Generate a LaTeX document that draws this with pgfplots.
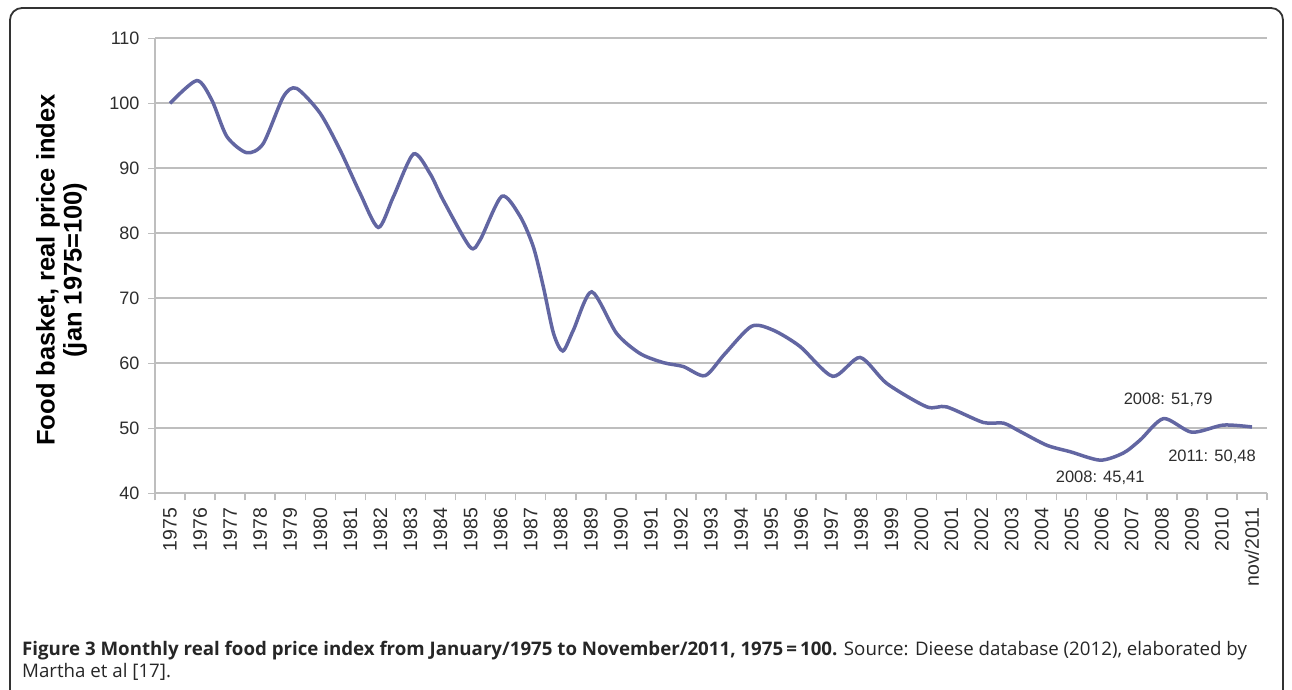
\documentclass[border=0pt]{standalone}
\usepackage{fontspec}
\setmainfont{Liberation Sans}
\newfontfamily\capfont{Open Sans}
\usepackage{pgfplots}
\pgfplotsset{compat=1.18}
\definecolor{linec}{RGB}{98,102,162}
\definecolor{gridc}{RGB}{190,190,190}
\definecolor{txt}{RGB}{45,45,45}
\begin{document}
\begin{tikzpicture}
\path[use as bounding box] (0pt,0pt) rectangle (1292pt,-689pt);
\draw[line width=1.8pt, black!80, rounded corners=12pt] (10pt,-8pt) rectangle (1283pt,-705pt);
\begin{axis}[
  at={(155pt,-493.3pt)}, anchor=south west,
  scale only axis, width=1112pt, height=455pt,
  xmin=-0.5, xmax=36.5, ymin=40, ymax=110,
  ytick={40,50,...,110},
  xtick={0,...,36},
  xticklabels={1975,1976,1977,1978,1979,1980,1981,1982,1983,1984,1985,1986,1987,1988,1989,1990,1991,1992,1993,1994,1995,1996,1997,1998,1999,2000,2001,2002,2003,2004,2005,2006,2007,2008,2009,2010,nov/2011},
  minor xtick={-0.5,0.5,...,36.5},
  axis x line*=bottom, axis y line*=left,
  axis line style={-, gridc, line width=1.8pt},
  ymajorgrids, grid style={gridc, line width=1.8pt},
  tick align=outside,
  major tick length=7pt, minor tick length=7pt,
  major x tick style={draw=none},
  minor x tick style={gridc, line width=1.5pt},
  y tick style={gridc, line width=1.5pt},
  tick label style={font=\fontsize{18}{20}\selectfont, text=txt},
  x tick label style={rotate=90, anchor=east, font=\fontsize{19.5}{21}\selectfont},
  xticklabel shift=4pt,
  yticklabel shift=5pt,
  /pgf/number format/assume math mode=true,
  clip=false,
]
\addplot[linec, line width=3.5pt, smooth, tension=0.45] coordinates {
(0,100.0) (0.89,103.5) (1.39,100.5) (1.89,94.9) (2.55,92.4) (3.1,93.8)
(3.77,101.0) (4.21,102.3) (4.99,98.5) (5.66,92.8) (6.32,86.2) (6.93,80.9)
(7.43,85.6) (8.1,92.2) (8.65,89.2) (9.09,85.1) (9.98,77.9) (10.32,79.0)
(11.04,85.7) (11.65,82.6) (12.09,77.9) (12.42,71.8) (12.76,64.6) (13.07,61.9)
(13.42,65.1) (14.03,71.0) (14.86,64.6) (15.64,61.5) (16.42,60.1) (17.08,59.5)
(17.8,58.1) (18.45,61.4) (19.35,65.7) (20.07,65.1) (20.96,62.6)
(22.05,58.0) (22.96,60.9) (23.85,56.9) (25.18,53.3) (25.84,53.3) (27.06,50.9)
(27.73,50.8) (28.29,49.5) (29.17,47.4) (29.95,46.4) (30.95,45.1) (31.72,46.2)
(32.28,48.2) (33.06,51.5) (34.0,49.4) (35.05,50.5) (36.0,50.2)
};
\node[font=\fontsize{16.5}{18}\selectfont, text=txt] at (axis cs:33.21,54.35) {2008: 51,79};
\node[font=\fontsize{16.5}{18}\selectfont, text=txt] at (axis cs:34.67,45.6) {2011: 50,48};
\node[font=\fontsize{16.5}{18}\selectfont, text=txt] at (axis cs:30.95,42.4) {2008: 45,41};
\end{axis}
\node[rotate=90, align=center, font=\bfseries\fontsize{25.5}{27}\selectfont, text=black] at (61.5pt,-270pt) {Food basket, real price index\\(jan 1975=100)};
\node[anchor=base west, align=left, inner sep=0pt, font=\capfont\fontsize{18.7}{22}\selectfont, text=black!85] at (22pt,-677pt) {\textbf{Figure 3 Monthly real food price index from January/1975 to November/2011, 1975\,=\,100.} Source: Dieese database (2012), elaborated by\\Martha et al [17].};
\end{tikzpicture}
\end{document}
